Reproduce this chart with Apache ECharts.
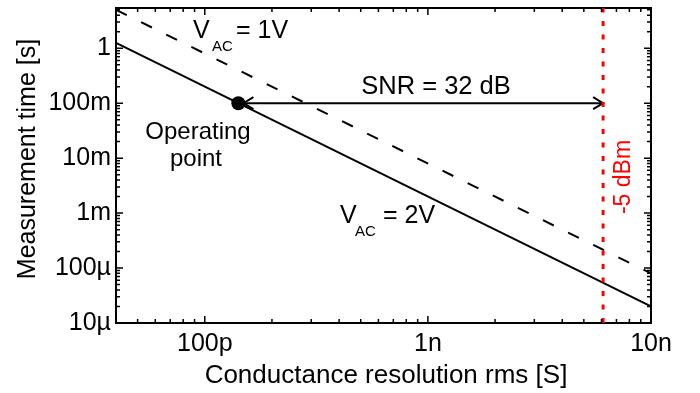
<!DOCTYPE html>
<html><head><meta charset="utf-8">
<script src="https://cdn.jsdelivr.net/npm/echarts@6/dist/echarts.min.js"></script>
<style>html,body{margin:0;padding:0;background:#fff}#c{width:700px;height:393px}</style>
</head><body><div id="c"></div>
<script>
// ---- data ----
const xRange = [4e-11, 1e-8];          // conductance resolution rms [S]
const yRange = [1e-5, 5.4];            // measurement time [s]
const xTickLabels = {'-10': '100p', '-9': '1n', '-8': '10n'};
const yTickLabels = {'-5': '10µ', '-4': '100µ', '-3': '1m', '-2': '10m', '-1': '100m', '0': '1'};
const resolution = [4e-11, 1e-8];
const timeVac2 = [1.25, 2e-5];         // V_AC = 2V (solid)
const timeVac1 = [5, 8e-5];            // V_AC = 1V (dashed)
const operatingPoint = [1.414e-10, 0.1];
const snrArrow = [1.49e-10, 0.1, 6.1e-9];   // start x, y, end x
const limitResolution = 6.1e-9;        // -5 dBm limit

const FONT = '"Liberation Sans", Arial, Helvetica, sans-serif';
const GRID = {left: 116, right: 49, top: 8, bottom: 70};
const PLOT_W = 700 - GRID.left - GRID.right, PLOT_H = 393 - GRID.top - GRID.bottom;

function logTicks(r) {
  const major = [], minor = [];
  for (let d = Math.floor(Math.log10(r[0])); d <= Math.ceil(Math.log10(r[1])); d++) {
    for (let m = 1; m <= 9; m++) {
      const v = m * Math.pow(10, d);
      if (v >= r[0] * 0.9999 && v <= r[1] * 1.0001) (m === 1 ? major : minor).push(v);
    }
  }
  return {major, minor};
}

function labelFor(map, v) {
  const l = Math.log10(v);
  const r = Math.round(l);
  if (Math.abs(l - r) > 1e-6) return '';
  return map[String(r)] || '';
}

// tick marks as short line series in data space (length given in pixels -> log factor)
const pxPerDecX = PLOT_W / Math.log10(xRange[1] / xRange[0]);
const pxPerDecY = PLOT_H / Math.log10(yRange[1] / yRange[0]);
const tickSeries = [];
function tickLine(p1, p2) {
  tickSeries.push({type: 'line', symbol: 'none', silent: true, animation: false, z: 5,
    data: [p1, p2], lineStyle: {color: '#000', width: 1.5}});
}
const xt = logTicks(xRange), yt = logTicks(yRange);
function addX(v, len) {
  const f = Math.pow(10, len / pxPerDecY);
  tickLine([v, yRange[0]], [v, yRange[0] * f]);
  tickLine([v, yRange[1]], [v, yRange[1] / f]);
}
function addY(v, len) {
  const f = Math.pow(10, len / pxPerDecX);
  tickLine([xRange[0], v], [xRange[0] * f, v]);
  tickLine([xRange[1], v], [xRange[1] / f, v]);
}
xt.major.forEach(v => addX(v, 7));
xt.minor.forEach(v => addX(v, 4));
yt.major.forEach(v => addY(v, 7));
yt.minor.forEach(v => addY(v, 4));

function textEl(t, x, y, size, opts) {
  opts = opts || {};
  return {type: 'text', x: x, y: y, rotation: opts.rot || 0,
    style: {text: t, font: size + 'px ' + FONT, fill: opts.color || '#000',
      align: opts.align || 'left', verticalAlign: 'middle'}};
}

const chart = echarts.init(document.getElementById('c'));
chart.setOption({
  animation: false,
  backgroundColor: '#fff',
  grid: Object.assign({show: true, borderColor: '#000', borderWidth: 2, backgroundColor: 'transparent'}, GRID),
  xAxis: {
    type: 'log', min: xRange[0], max: xRange[1],
    axisLine: {show: true, onZero: false, lineStyle: {color: '#000', width: 2}},
    axisTick: {show: false},
    splitLine: {show: false},
    axisLabel: {show: true, margin: 9, fontSize: 25, color: '#000', fontFamily: FONT,
      formatter: v => labelFor(xTickLabels, v)}
  },
  yAxis: {
    type: 'log', min: yRange[0], max: yRange[1],
    axisLine: {show: true, onZero: false, lineStyle: {color: '#000', width: 2}},
    axisTick: {show: false},
    splitLine: {show: false},
    axisLabel: {show: true, margin: 5, fontSize: 25, color: '#000', fontFamily: FONT,
      formatter: v => labelFor(yTickLabels, v)}
  },
  series: tickSeries.concat([
    {
      type: 'line', name: 'VAC=1V', symbol: 'none', silent: true,
      data: resolution.map((x, i) => [x, timeVac1[i]]),
      lineStyle: {color: '#000', width: 2, type: [12, 16]}
    },
    {
      type: 'line', name: 'VAC=2V', symbol: 'none', silent: true,
      data: resolution.map((x, i) => [x, timeVac2[i]]),
      lineStyle: {color: '#000', width: 2}
    },
    {
      type: 'line', name: '-5 dBm', symbol: 'none', silent: true,
      data: [[limitResolution, yRange[0]], [limitResolution, yRange[1]]],
      lineStyle: {color: '#ff0000', width: 3, type: [5, 8.5], cap: 'butt'}
    },
    {
      type: 'custom', silent: true, clip: false,
      data: [snrArrow],
      encode: {x: [0, 2], y: 1},
      renderItem: function (params, api) {
        const a = api.coord([api.value(0), api.value(1)]);
        const b = api.coord([api.value(2), api.value(1)]);
        const L = 10, H = 6;
        return {type: 'group', children: [
          {type: 'line', shape: {x1: a[0], y1: a[1], x2: b[0], y2: b[1]}, style: {stroke: '#000', lineWidth: 2}},
          {type: 'polyline', shape: {points: [[a[0] + L, a[1] - H], [a[0], a[1]], [a[0] + L, a[1] + H]]}, style: {stroke: '#000', lineWidth: 2, fill: null}},
          {type: 'polyline', shape: {points: [[b[0] - L, b[1] - H], [b[0], b[1]], [b[0] - L, b[1] + H]]}, style: {stroke: '#000', lineWidth: 2, fill: null}}
        ]};
      }
    },
    {
      type: 'scatter', silent: true, symbol: 'circle', symbolSize: 14,
      itemStyle: {color: '#000', opacity: 1},
      data: [operatingPoint]
    }
  ]),
  graphic: [
    textEl('Measurement time [s]', 28, 159, 25, {rot: Math.PI / 2, align: 'center'}),
    textEl('Conductance resolution rms [S]', 386, 376, 26, {align: 'center'}),
    textEl('V', 193, 31.5, 25),
    textEl('AC', 212, 47, 15),
    textEl('= 1V', 236, 31.5, 25),
    textEl('V', 340, 216.5, 25),
    textEl('AC', 355, 232, 15),
    textEl('= 2V', 383, 216.5, 25),
    textEl('SNR = 32 dB', 436, 87, 25.5, {align: 'center'}),
    textEl('Operating', 198, 132, 24, {align: 'center'}),
    textEl('point', 196, 159, 24, {align: 'center'}),
    textEl('-5 dBm', 624, 177, 23, {rot: Math.PI / 2, align: 'center', color: '#ff0000'})
  ]
});
</script></body></html>
